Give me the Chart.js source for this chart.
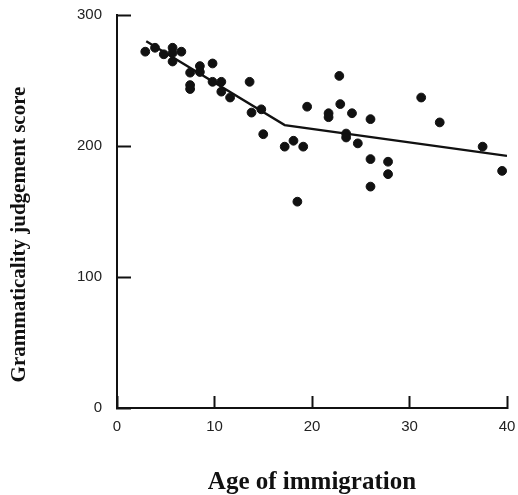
<!DOCTYPE html>
<html>
<head>
<meta charset="utf-8">
<script src="https://cdn.jsdelivr.net/npm/chart.js@4"></script>
<style>
  html, body { margin: 0; padding: 0; background: #fff; }
  #wrap { width: 518px; height: 495px; }
</style>
</head>
<body>
<div id="wrap"><canvas id="c" width="518" height="495"></canvas></div>
<script>
// Age of immigration (years) for each participant
const ages = [2.9, 3.9, 4.8, 5.7, 5.7, 5.7, 6.6, 7.5, 7.5, 7.5, 8.5, 8.5, 9.8, 9.8, 10.7, 10.7,
  11.6, 13.6, 13.8, 14.8, 15.0, 17.2, 18.1, 19.1, 18.5, 19.5, 21.7, 21.7, 22.8, 22.9, 23.5, 23.5,
  24.1, 24.7, 26.0, 26.0, 26.0, 27.8, 27.8, 31.2, 33.1, 37.5, 39.5];
// Grammaticality judgement score for each participant
const scores = [272, 275, 270, 275, 271, 264.5, 272, 256, 246.5, 243.5, 261, 256.5, 263, 249, 249, 241.5,
  237, 249, 225.5, 228, 209, 199.5, 204, 199.5, 157.5, 230, 225, 222, 253.5, 232, 209.5, 206.5,
  225, 202, 220.5, 190, 169, 188, 178.5, 237, 218, 199.5, 181];
// Piecewise linear fit
const fitAges = [3, 17.2, 40];
const fitScores = [280, 216, 192.5];
// Axis ticks
const xTicks = [0, 10, 20, 30, 40];
const yTicks = [0, 100, 200, 300];
const yTitle = 'Grammaticality judgement score';
const xTitle = 'Age of immigration';

const pts = ages.map((a, i) => ({ x: a, y: scores[i] }));
const fit = fitAges.map((a, i) => ({ x: a, y: fitScores[i] }));

const ink = '#111';
const tickFont = { family: '"Liberation Sans", Arial, sans-serif', size: 15 };
const titleFamily = '"Liberation Serif", "Times New Roman", serif';

// Vertical axis title, set a little below the middle of the y axis
const yTitlePlugin = {
  id: 'yTitle',
  afterDraw(chart) {
    const s = chart.scales.y;
    const ctx = chart.ctx;
    ctx.save();
    ctx.translate(s.left + 20, (s.top + s.bottom) / 2 + 23);
    ctx.rotate(-Math.PI / 2);
    ctx.font = 'bold 21px ' + titleFamily;
    ctx.fillStyle = ink;
    ctx.textAlign = 'center';
    ctx.textBaseline = 'middle';
    ctx.fillText(yTitle, 0, 0);
    ctx.restore();
  }
};

new Chart(document.getElementById('c'), {
  type: 'scatter',
  data: {
    datasets: [
      {
        data: pts,
        backgroundColor: ink,
        borderColor: ink,
        pointRadius: 4.4,
        pointHoverRadius: 4.4,
        clip: false
      },
      {
        type: 'line',
        data: fit,
        borderColor: ink,
        borderWidth: 2.3,
        pointRadius: 0,
        fill: false,
        tension: 0
      }
    ]
  },
  plugins: [yTitlePlugin],
  options: {
    responsive: false,
    animation: false,
    devicePixelRatio: 1,
    layout: { padding: 0 },
    plugins: { legend: { display: false }, tooltip: { enabled: false } },
    scales: {
      x: {
        type: 'linear',
        min: 0,
        max: 40,
        afterBuildTicks: s => { s.ticks = xTicks.map(v => ({ value: v })); },
        afterFit: s => { s.height = 87; s.paddingLeft = 0; s.paddingRight = 11; },
        border: { display: true, color: ink, width: 2 },
        grid: { display: true, drawOnChartArea: false, drawTicks: true, tickLength: -12, tickWidth: 2, tickColor: ink },
        ticks: { color: '#222', font: tickFont, padding: 22, maxRotation: 0 },
        title: { display: true, text: xTitle, color: ink, font: { family: titleFamily, weight: 'bold', size: 25, lineHeight: 1 }, padding: { top: 0, bottom: 0 } }
      },
      y: {
        type: 'linear',
        min: 0,
        max: 300,
        afterBuildTicks: s => { s.ticks = yTicks.map(v => ({ value: v })); },
        afterFit: s => { s.width = 117; s.paddingTop = 15; s.paddingBottom = 0; },
        border: { display: true, color: ink, width: 2 },
        grid: { display: true, drawOnChartArea: false, drawTicks: true, tickLength: -14, tickWidth: 2, tickColor: ink },
        ticks: { color: '#222', font: tickFont, padding: 29 },
        title: { display: false }
      }
    }
  }
});
</script>
</body>
</html>
